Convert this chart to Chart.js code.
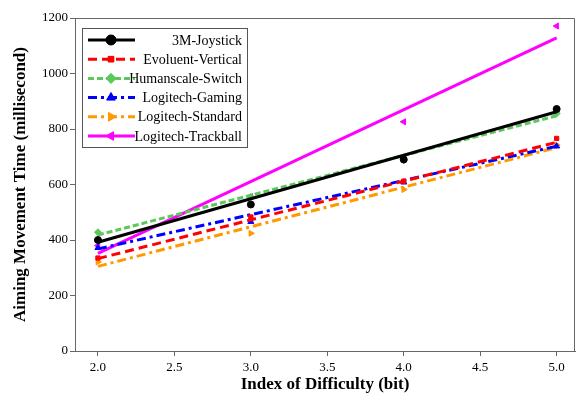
<!DOCTYPE html>
<html>
<head>
<meta charset="utf-8">
<script src="https://cdn.jsdelivr.net/npm/chart.js@4/dist/chart.umd.min.js"></script>
<style>
  body { margin: 0; background: #fff; }
  #wrap { width: 580px; height: 396px; }
</style>
</head>
<body>
<div id="wrap"><canvas id="chart"></canvas></div>
<script>
const difficulty = [2.0, 3.0, 4.0, 5.0];
const deviceNames = ['3M-Joystick', 'Evoluent-Vertical', 'Humanscale-Switch', 'Logitech-Gaming', 'Logitech-Standard', 'Logitech-Trackball'];
const joystickTimes = [400, 528, 690, 872];
const evoluentTimes = [335, 483, 612, 766];
const humanscaleTimes = [428, 555, 688, 856];
const gamingTimes = [372, 466, 608, 738];
const standardTimes = [321, 424, 582, 742];
const trackballTimes = [380, 556, 826, 1171];
// fitted lines, ends at ID 2.0 and 5.0
const fitEnds = [2.0, 5.0];
const joystickFit = [392, 862];
const evoluentFit = [333, 752];
const humanscaleFit = [418, 848];
const gamingFit = [368, 738];
const standardFit = [305, 733];
const trackballFit = [352, 1128];
const xTicks = [2.0, 2.5, 3.0, 3.5, 4.0, 4.5, 5.0];
const yTicks = [0, 200, 400, 600, 800, 1000, 1200];

const styles = [
  { color: '#000000', dash: [], marker: 'circle', rot: 0 },
  { color: '#ff0000', dash: [9, 5], marker: 'rect', rot: 0 },
  { color: '#5cc85c', dash: [6, 3], marker: 'rectRot', rot: 0 },
  { color: '#0000ff', dash: [9, 4, 3, 4], marker: 'triangle', rot: 0 },
  { color: '#ff9900', dash: [9, 4, 3, 4], marker: 'triangle', rot: 90 },
  { color: '#ff00ff', dash: [], marker: 'triangle', rot: 270 }
];
const allTimes = [joystickTimes, evoluentTimes, humanscaleTimes, gamingTimes, standardTimes, trackballTimes];
const allFits = [joystickFit, evoluentFit, humanscaleFit, gamingFit, standardFit, trackballFit];
const markerSize = m => (m === 'rect' ? 3 : 3.5);

const datasets = [];
deviceNames.forEach((name, i) => {
  const s = styles[i];
  datasets.push({
    label: name + ' fit',
    data: fitEnds.map((x, k) => ({ x: x, y: allFits[i][k] })),
    showLine: true,
    borderColor: s.color,
    borderWidth: 3,
    borderDash: s.dash,
    pointRadius: 0
  });
  datasets.push({
    label: name,
    data: difficulty.map((x, k) => ({ x: x, y: allTimes[i][k] })),
    showLine: false,
    backgroundColor: s.color,
    borderColor: s.color,
    pointStyle: s.marker,
    rotation: s.rot,
    pointRadius: markerSize(s.marker),
    borderWidth: 1
  });
});

const serif = 'Liberation Serif';

// legend box in the top-left of the plot, labels right-aligned
const boxLegend = {
  id: 'boxLegend',
  afterDraw(chart) {
    const ctx = chart.ctx;
    const a = chart.chartArea;
    const bx = a.left + 7, by = a.top + 10, bw = 165, bh = 119;
    ctx.save();
    ctx.fillStyle = '#fff';
    ctx.fillRect(bx, by, bw, bh);
    ctx.strokeStyle = '#555';
    ctx.lineWidth = 1;
    ctx.strokeRect(bx + 0.5, by + 0.5, bw, bh);
    ctx.font = '14px "' + serif + '"';
    ctx.textAlign = 'right';
    ctx.textBaseline = 'middle';
    deviceNames.forEach((name, i) => {
      const s = styles[i];
      const y = by + 12 + i * 19.2;
      ctx.strokeStyle = s.color;
      ctx.lineWidth = 3;
      ctx.setLineDash(s.dash);
      ctx.beginPath();
      ctx.moveTo(bx + 6, y);
      ctx.lineTo(bx + 53, y);
      ctx.stroke();
      ctx.setLineDash([]);
      ctx.lineWidth = 1;
      ctx.fillStyle = s.color;
      Chart.helpers.drawPoint(ctx, {
        pointStyle: s.marker,
        rotation: s.rot,
        radius: s.marker === 'rect' ? 4 : 5,
        borderWidth: 1
      }, bx + 29, y);
      ctx.fill();
      ctx.fillStyle = '#000';
      ctx.fillText(name, bx + bw - 5, y + 1);
    });
    ctx.restore();
  }
};

// top and right edges of the frame
const frame = {
  id: 'frame',
  beforeDatasetsDraw(chart) {
    const ctx = chart.ctx;
    const a = chart.chartArea;
    ctx.save();
    ctx.strokeStyle = '#666';
    ctx.lineWidth = 1;
    ctx.beginPath();
    ctx.moveTo(a.left, a.top + 0.5);
    ctx.lineTo(a.right - 0.5, a.top + 0.5);
    ctx.lineTo(a.right - 0.5, a.bottom);
    ctx.stroke();
    ctx.restore();
  }
};

new Chart(document.getElementById('chart'), {
  type: 'scatter',
  data: { datasets: datasets },
  plugins: [frame, boxLegend],
  options: {
    responsive: true,
    maintainAspectRatio: false,
    animation: false,
    layout: { padding: { top: 18, right: -4, left: 0, bottom: 0 } },
    plugins: { legend: { display: false }, tooltip: { enabled: false } },
    scales: {
      x: {
        type: 'linear',
        min: 1.85,
        max: 5.12,
        afterBuildTicks: s => { s.ticks = xTicks.map(v => ({ value: v })); },
        afterFit: s => { s.height = 45; },
        border: { color: '#666', width: 1 },
        grid: { display: true, drawOnChartArea: false, drawTicks: true, tickLength: 5, color: '#666' },
        ticks: {
          color: '#000',
          font: { family: serif, size: 13 },
          padding: 4,
          maxRotation: 0,
          callback: v => Number(v).toFixed(1)
        },
        title: {
          display: true,
          text: 'Index of Difficulty (bit)',
          color: '#000',
          font: { family: serif, size: 17, weight: 'bold' },
          padding: { top: 0, bottom: 1 }
        }
      },
      y: {
        min: 0,
        max: 1200,
        afterBuildTicks: s => { s.ticks = yTicks.map(v => ({ value: v })); },
        afterFit: s => { s.width = 75; },
        border: { color: '#666', width: 1 },
        grid: { display: true, drawOnChartArea: false, drawTicks: true, tickLength: 5, color: '#666' },
        ticks: {
          color: '#000',
          font: { family: serif, size: 13 },
          padding: 2,
          callback: v => String(v)
        },
        title: {
          display: true,
          text: 'Aiming Movement Time (millisecond)',
          color: '#000',
          font: { family: serif, size: 17, weight: 'bold' },
          padding: { top: 10, bottom: 0 }
        }
      }
    }
  }
});
</script>
</body>
</html>
